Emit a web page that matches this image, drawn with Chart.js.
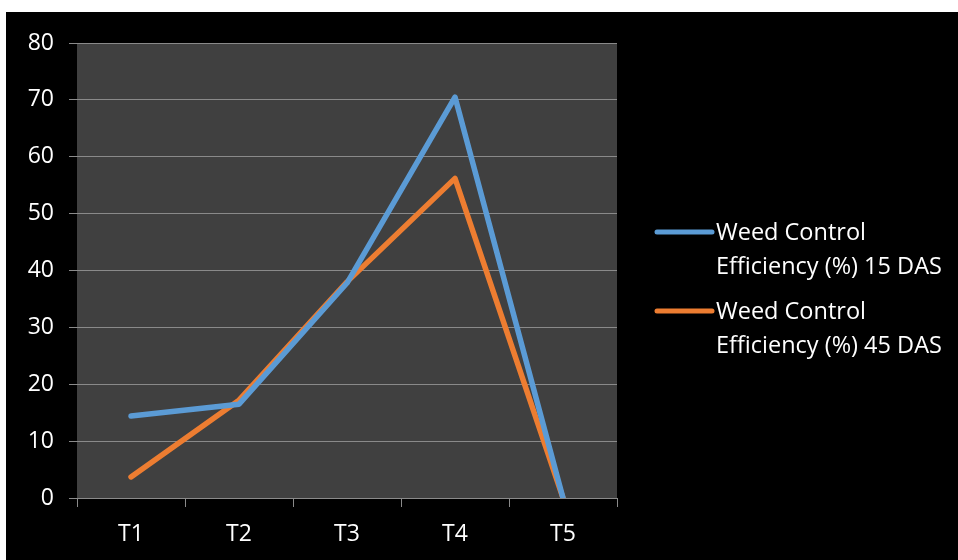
<!DOCTYPE html>
<html>
<head>
<meta charset="utf-8">
<script src="https://cdn.jsdelivr.net/npm/chart.js@4/dist/chart.umd.min.js"></script>
<style>
  html, body { margin: 0; padding: 0; background: #ffffff; }
  #frame { position: absolute; left: 6px; top: 12px; width: 952px; height: 548px; background: #000000; }
  canvas { display: block; }
</style>
</head>
<body>
<div id="frame"><canvas id="chart" width="952" height="548"></canvas></div>
<script>
// Treatments and weed control efficiency readings
const treatments = ['T1', 'T2', 'T3', 'T4', 'T5'];
const wce15DAS = [14.4, 16.5, 37.8, 70.5, 0];
const wce45DAS = [3.7, 17.2, 38.0, 56.2, 0];
const seriesNames = [
  ['Weed Control', 'Efficiency (%) 15 DAS'],
  ['Weed Control', 'Efficiency (%) 45 DAS']
];
const yTicks = [0, 10, 20, 30, 40, 50, 60, 70, 80];

const FONT = '"Open Sans", sans-serif';
const GRID = '#8a8a8a';

// Dark plot area behind the lines
const plotBackground = {
  id: 'plotBackground',
  beforeDraw(chart) {
    const { ctx, chartArea: a } = chart;
    ctx.save();
    ctx.fillStyle = '#404040';
    ctx.fillRect(a.left, a.top, a.right - a.left, a.bottom - a.top);
    ctx.restore();
  }
};

// Legend to the right of the plot, with two-line labels
const sideLegend = {
  id: 'sideLegend',
  afterDraw(chart) {
    const { ctx } = chart;
    const x0 = 651, lineLen = 55, textX = 710;
    const rows = [220, 299];
    ctx.save();
    ctx.font = '23.5px ' + FONT;
    ctx.textBaseline = 'middle';
    chart.data.datasets.forEach((ds, i) => {
      const y = rows[i];
      ctx.strokeStyle = ds.borderColor;
      ctx.lineWidth = 5;
      ctx.lineCap = 'round';
      ctx.beginPath();
      ctx.moveTo(x0, y);
      ctx.lineTo(x0 + lineLen, y);
      ctx.stroke();
      ctx.fillStyle = '#ffffff';
      seriesNames[i].forEach((t, k) => ctx.fillText(t, textX, y + 1 + k * 34));
    });
    ctx.restore();
  }
};

new Chart(document.getElementById('chart'), {
  type: 'line',
  data: {
    labels: treatments,
    datasets: [
      { label: seriesNames[0].join(' '), data: wce15DAS, borderColor: '#5b9bd5', backgroundColor: '#5b9bd5' },
      { label: seriesNames[1].join(' '), data: wce45DAS, borderColor: '#ed7d31', backgroundColor: '#ed7d31' }
    ]
  },
  options: {
    responsive: false,
    animation: false,
    layout: { padding: { left: 0, top: 31, right: 341, bottom: 0 } },
    elements: {
      line: { borderWidth: 5.5, tension: 0, borderCapStyle: 'round', borderJoinStyle: 'round' },
      point: { radius: 0, hoverRadius: 0 }
    },
    plugins: { legend: { display: false }, tooltip: { enabled: false } },
    scales: {
      x: {
        offset: true,
        grid: { offset: true, drawOnChartArea: false, drawTicks: true, tickLength: 9, color: GRID },
        border: { display: true, color: GRID, width: 1 },
        ticks: { color: '#ffffff', font: { family: FONT, size: 23 }, padding: 14 },
        afterFit(s) { s.height = 62; }
      },
      y: {
        min: 0, max: 80,
        afterBuildTicks(s) { s.ticks = yTicks.map(v => ({ value: v })); },
        grid: { color: GRID, lineWidth: 1, tickLength: 8, drawTicks: true },
        border: { display: false },
        ticks: { color: '#ffffff', font: { family: FONT, size: 23 }, padding: 15 },
        afterFit(s) { s.width = 71; }
      }
    }
  },
  plugins: [plotBackground, sideLegend]
});
</script>
</body>
</html>
